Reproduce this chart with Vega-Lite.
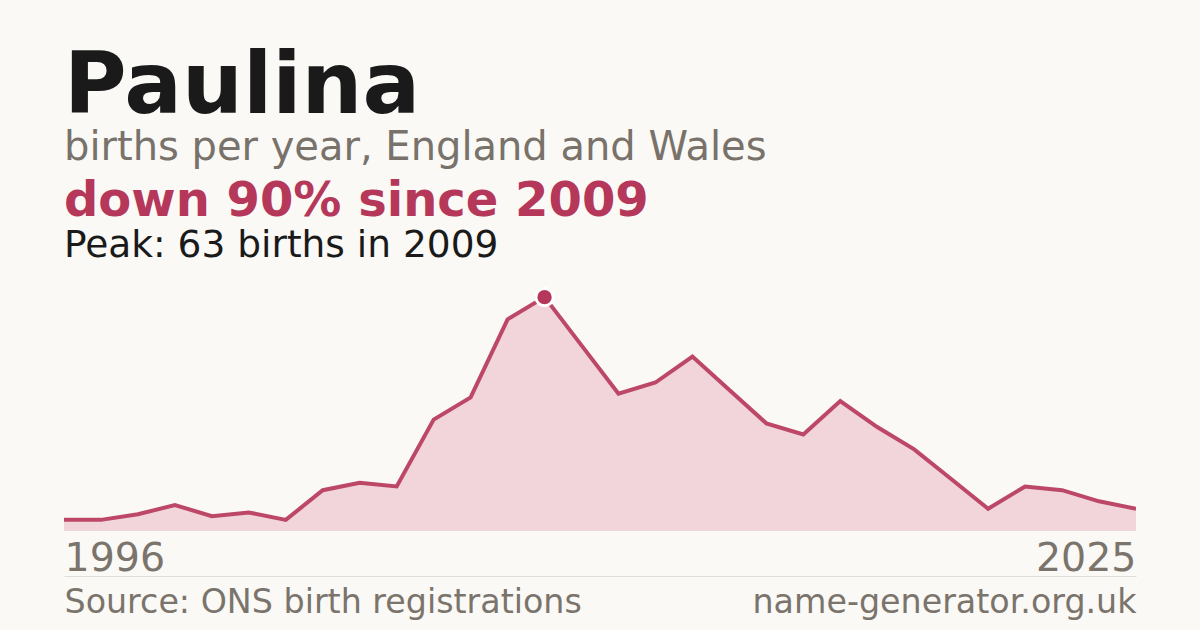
{
  "$schema": "https://vega.github.io/schema/vega-lite/v6.json",
  "background": "#faf9f5",
  "padding": {"left": 64, "right": 64, "top": 45, "bottom": 13},
  "data": {
    "values": [
      {"year": 1996, "births": 3},
      {"year": 1997, "births": 3},
      {"year": 1998, "births": 4.5},
      {"year": 1999, "births": 7},
      {"year": 2000, "births": 4},
      {"year": 2001, "births": 5},
      {"year": 2002, "births": 3},
      {"year": 2003, "births": 11},
      {"year": 2004, "births": 13},
      {"year": 2005, "births": 12},
      {"year": 2006, "births": 30},
      {"year": 2007, "births": 36},
      {"year": 2008, "births": 57},
      {"year": 2009, "births": 63},
      {"year": 2010, "births": 50},
      {"year": 2011, "births": 37},
      {"year": 2012, "births": 40},
      {"year": 2013, "births": 47},
      {"year": 2014, "births": 38},
      {"year": 2015, "births": 29},
      {"year": 2016, "births": 26},
      {"year": 2017, "births": 35},
      {"year": 2018, "births": 28},
      {"year": 2019, "births": 22},
      {"year": 2020, "births": 14},
      {"year": 2021, "births": 6},
      {"year": 2022, "births": 12},
      {"year": 2023, "births": 11},
      {"year": 2024, "births": 8},
      {"year": 2025, "births": 6}
    ]
  },
  "title": {
    "text": "Paulina",
    "subtitle": "births per year, England and Wales",
    "anchor": "start",
    "font": "DejaVu Sans",
    "fontSize": 85.5,
    "fontWeight": "bold",
    "color": "#1a1a1a",
    "subtitleFont": "DejaVu Sans",
    "subtitleFontSize": 40,
    "subtitleColor": "#78726b",
    "subtitlePadding": -3,
    "offset": 10
  },
  "vconcat": [
    {
      "width": 1072,
      "height": 245,
      "title": {
        "text": "down 90% since 2009",
        "subtitle": "Peak: 63 births in 2009",
        "anchor": "start",
        "font": "DejaVu Sans",
        "fontSize": 48,
        "fontWeight": "bold",
        "color": "#b5385a",
        "subtitleFont": "DejaVu Sans",
        "subtitleFontSize": 37.5,
        "subtitleColor": "#1a1a1a",
        "subtitlePadding": 1,
        "offset": 18
      },
      "resolve": {"axis": {"x": "independent"}},
      "layer": [
        {
          "mark": {"type": "area", "color": "#f1d5db", "opacity": 1},
          "encoding": {
            "x": {
              "field": "year",
              "type": "quantitative",
              "scale": {"domain": [1996, 2025], "nice": false, "zero": false},
              "axis": {
                "orient": "bottom",
                "offset": 45,
                "values": [1996, 2025],
                "format": "d",
                "labelFlush": true,
                "labelFont": "DejaVu Sans",
                "labelFontSize": 39.5,
                "labelColor": "#7a746c",
                "labelPadding": -37,
                "domain": true,
                "domainColor": "#e0ddd6",
                "domainWidth": 1,
                "ticks": false,
                "grid": false,
                "title": "Source: ONS birth registrations",
                "titleAnchor": "start",
                "titleBaseline": "alphabetic",
                "titleY": 36,
                "titleFont": "DejaVu Sans",
                "titleFontSize": 33.3,
                "titleFontWeight": "normal",
                "titleColor": "#7a746c"
              }
            },
            "y": {
              "field": "births",
              "type": "quantitative",
              "scale": {"domain": [0, 66], "nice": false},
              "axis": null
            }
          }
        },
        {
          "mark": {"type": "line", "color": "#bd4767", "strokeWidth": 4, "clip": true},
          "encoding": {
            "x": {"field": "year", "type": "quantitative", "axis": null},
            "y": {"field": "births", "type": "quantitative", "axis": null}
          }
        },
        {
          "transform": [{"filter": "datum.year == 2009"}],
          "mark": {"type": "circle", "size": 300, "color": "#b5385a", "opacity": 1, "stroke": "white", "strokeWidth": 3},
          "encoding": {
            "x": {
              "field": "year",
              "type": "quantitative",
              "axis": {
                "orient": "bottom",
                "offset": 45,
                "domain": false,
                "ticks": false,
                "labels": false,
                "grid": false,
                "title": "name-generator.org.uk",
                "titleAnchor": "end",
                "titleBaseline": "alphabetic",
                "titleY": 36,
                "titleFont": "DejaVu Sans",
                "titleFontSize": 33.3,
                "titleFontWeight": "normal",
                "titleColor": "#7a746c"
              }
            },
            "y": {"field": "births", "type": "quantitative", "axis": null}
          }
        }
      ]
    }
  ],
  "config": {
    "view": {"stroke": null}
  }
}
